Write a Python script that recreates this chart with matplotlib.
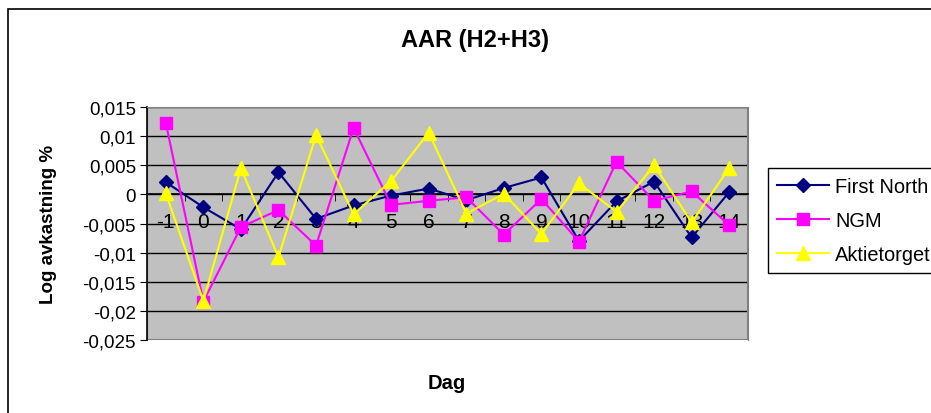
import matplotlib
matplotlib.use('Agg')
import matplotlib.pyplot as plt
from matplotlib.patches import Rectangle
from matplotlib.ticker import FuncFormatter, FixedLocator

plt.rcParams['font.family'] = ['Liberation Sans', 'DejaVu Sans']

# Data
dagar = ['-1', '0', '1', '2', '3', '4', '5', '6', '7', '8', '9', '10', '11', '12', '13', '14']
first_north = [0.0021, -0.0022, -0.0060, 0.0038, -0.0042, -0.0019, -0.0002, 0.0010, -0.0010, 0.0011,
               0.0029, -0.0080, -0.0012, 0.0022, -0.0074, 0.0004]
ngm = [0.0123, -0.0184, -0.0056, -0.0027, -0.0088, 0.0114, -0.0018, -0.0011, -0.0005, -0.0069,
       -0.0008, -0.0081, 0.0056, -0.0011, 0.0005, -0.0053]
aktietorget = [0.0002, -0.0183, 0.0045, -0.0108, 0.0102, -0.0034, 0.0023, 0.0106, -0.0033, 0.0001,
               -0.0068, 0.0019, -0.0030, 0.0050, -0.0048, 0.0045]
y_ticks = [-0.025, -0.02, -0.015, -0.01, -0.005, 0, 0.005, 0.01, 0.015]

fig = plt.figure(figsize=(9.31, 4.14), dpi=100)
ax = fig.add_axes([147 / 931, 73 / 414, 601 / 931, 233 / 414])
ax.set_facecolor('#C0C0C0')

x = list(range(len(dagar)))
ax.plot(x, first_north, color='#000080', marker='D', markersize=7.5, lw=1.5, label='First North', zorder=3)
ax.plot(x, ngm, color='#FF00FF', marker='s', markersize=8, lw=1.5, label='NGM', zorder=3)
ax.plot(x, aktietorget, color='#FFFF00', marker='^', markersize=10, lw=1.5, label='Aktietorget', zorder=3)

ax.set_xlim(-0.5, len(dagar) - 0.5)
ax.set_ylim(-0.025, 0.015)
ax.set_yticks(y_ticks)
ax.yaxis.set_major_formatter(FuncFormatter(lambda v, p: f"{round(v, 3):g}".replace('.', ',')))
ax.grid(axis='y', color='black', lw=1)
ax.set_axisbelow(True)

# x axis sits at zero, ticks between categories
ax.spines['bottom'].set_position(('data', 0))
ax.spines['bottom'].set_color('black')
ax.spines['bottom'].set_linewidth(1.2)
ax.spines['left'].set_color('black')
ax.spines['left'].set_linewidth(1.2)
ax.spines['top'].set_color('#808080')
ax.spines['right'].set_color('#808080')
ax.add_patch(Rectangle((0, 0), 1, 1, transform=ax.transAxes, fill=False,
                       edgecolor='#808080', lw=1.5, zorder=1))
ax.set_xticks(x)
ax.set_xticklabels(dagar, fontsize=15)
ax.xaxis.set_minor_locator(FixedLocator([i + 0.5 for i in range(-1, len(dagar))]))
ax.tick_params(axis='x', which='major', length=0, pad=13)
ax.tick_params(axis='x', which='minor', length=5, direction='out', color='black')
ax.tick_params(axis='y', length=5, direction='out', labelsize=13.5, pad=3)

ax.set_ylabel('Log avkastning %', fontsize=13.5, fontweight='bold')
ax.yaxis.set_label_coords(-0.150, 0.5)
fig.text(475 / 931, 1 - 40 / 414, 'AAR (H2+H3)', fontsize=17, fontweight='bold', ha='center', va='center')
fig.text(447 / 931, 1 - 384 / 414, 'Dag', fontsize=14.5, fontweight='bold', ha='center', va='center')

leg = fig.legend(loc='upper left', bbox_to_anchor=(768 / 931, 1 - 169 / 414), fontsize=14.4,
                 frameon=True, fancybox=False, edgecolor='black', framealpha=1, borderaxespad=0,
                 handlelength=2.6, labelspacing=0.75, borderpad=0.45, handletextpad=0.3)
leg.get_frame().set_linewidth(1)

fig.patches.append(Rectangle((8 / 931, -0.1), 1.2, 1.1 - 10 / 414, transform=fig.transFigure,
                             fill=False, edgecolor='black', lw=1.2))

fig.savefig('out.png', dpi=100)
